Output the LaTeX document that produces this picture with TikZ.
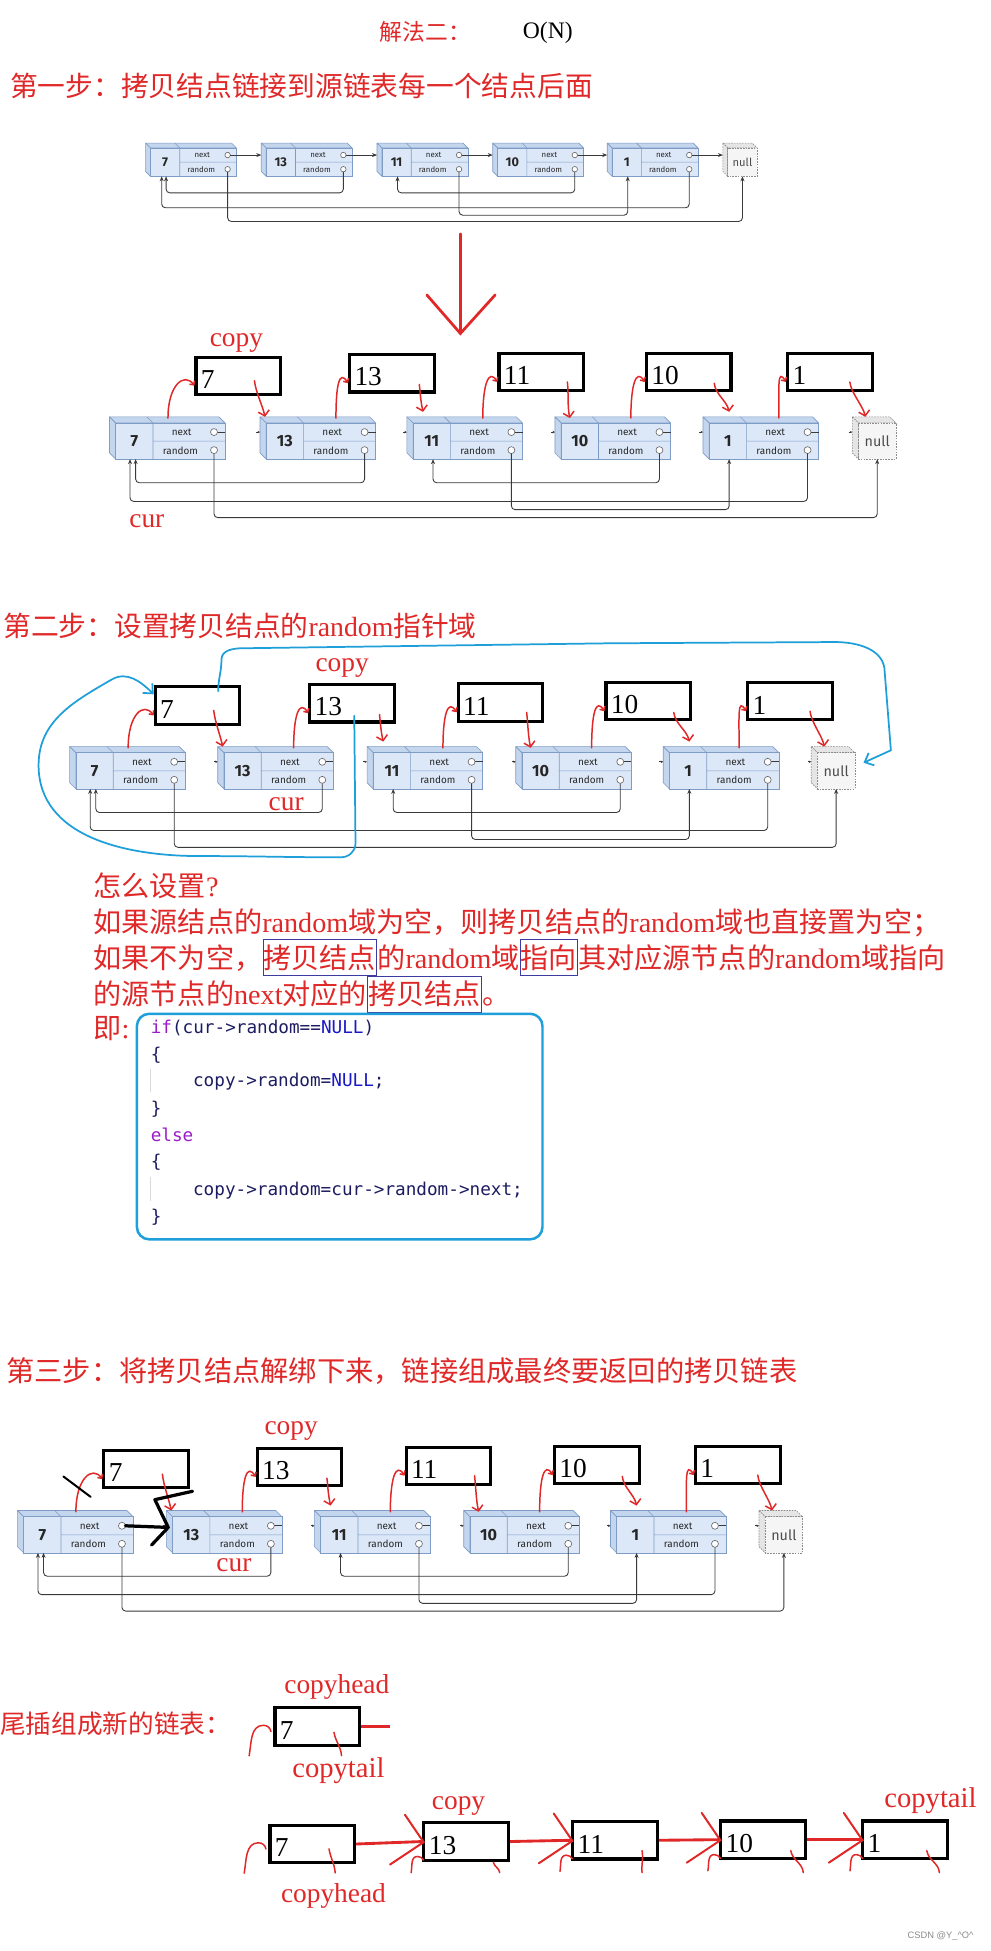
\documentclass[tikz,border=0pt]{standalone}
\usepackage{fontspec}
\setmainfont{Liberation Serif}
\newfontfamily\cjk{Noto Sans CJK SC}
\newfontfamily\nodef{Fira Sans}
\newfontfamily\codef{DejaVu Sans Mono}
\newfontfamily\wmf{Liberation Sans}
\usetikzlibrary{arrows.meta}
\definecolor{rd}{HTML}{E02828}
\definecolor{nfront}{HTML}{DCE8F8}
\definecolor{nside}{HTML}{C4D6EE}
\definecolor{nborder}{HTML}{7F9CC6}
\definecolor{lk}{HTML}{3A3A3A}
\definecolor{bl}{HTML}{1E9FDA}
\definecolor{hlb}{HTML}{3C3CA0}
\definecolor{kw}{HTML}{9A1CC8}
\definecolor{nl}{HTML}{1818C8}
\definecolor{cd}{HTML}{1C1C60}
\tikzset{
 nodeside/.style={fill=nside, draw=nborder, line width=0.5pt, line join=round},
 nodefront/.style={fill=nfront, draw=nborder, line width=0.5pt},
 nullside/.style={fill=black!10, draw=black!45, dash pattern=on 1.3pt off 0.9pt, line width=0.5pt},
 nullfront/.style={fill=black!4, draw=black!45, dash pattern=on 1.3pt off 0.9pt, line width=0.5pt},
 valtxt/.style={inner sep=0, font=\nodef\bfseries\fontsize{13}{13}\selectfont, text=black!85},
 fldtxt/.style={inner sep=0, font=\nodef\fontsize{8}{8}\selectfont, text=black!85},
 nulltxt/.style={inner sep=0, font=\nodef\fontsize{11.5}{11.5}\selectfont, text=black!70},
 pics/lnode/.style={code={
   \path[nodeside] (0,0) -- (88,0) -- (93,5) -- (5,5) -- cycle;
   \path[nodeside] (0,0) -- (5,5) -- (5,34) -- (0,29) -- cycle;
   \path[nodefront] (5,5) rectangle (93,34);
   \draw[nborder, line width=0.5pt] (30,0) -- (35,5) -- (35,34) (35,19.5) -- (93,19.5);
   \node[valtxt] (-val) at (20,19.5) {#1};
   \node[fldtxt] (-nx) at (58,12.5) {next};
   \node[fldtxt] (-rd) at (57,27) {random};
   \draw[lk, line width=0.6pt] (86.8,12.25) -- (93,12.25);
   \draw[black!60, fill=white, line width=0.5pt] (84,12.25) circle[radius=2.8] (84,26.75) circle[radius=2.8];
   \coordinate (-o) at (0,0);
   \coordinate (-ne) at (86.8,12.25);
   \coordinate (-rb) at (84,29.55);
   \coordinate (-vb) at (21,34);
   \coordinate (-vb2) at (16.5,34);
   \coordinate (-in) at (0,12.25);
 }},
 pics/nullnode/.style={code={
   \path[nullside] (0,0) -- (30,0) -- (35,5) -- (5,5) -- cycle;
   \path[nullside] (0,0) -- (5,5) -- (5,34) -- (0,29) -- cycle;
   \path[nullfront] (5,5) rectangle (35,34);
   \node[nulltxt] (-t) at (20,19.5) {null};
   \coordinate (-o) at (0,0);
   \coordinate (-vb) at (20,34);
   \coordinate (-in) at (0,12.25);
 }},
 lnk/.style={lk, line width=0.7pt, rounded corners=3pt, -{Stealth[length=4pt,width=3.2pt]}},
 rtxt/.style={inner sep=0, text=rd, font=\cjk\fontsize{22.6}{26}\selectfont},
 hl/.style={draw=hlb, line width=0.7pt, inner xsep=0.5pt, inner ysep=4pt},
 lbl/.style={inner sep=0, text=rd, font=\rmfamily\fontsize{22}{24}\selectfont},
 cbox/.style={draw=black, line width=2.5pt, minimum width=68, minimum height=30, inner sep=0},
 numtxt/.style={inner sep=0, font=\rmfamily\fontsize{22}{22}\selectfont, text=black, anchor=west},
 rise/.style={rd, line width=1.2pt, line cap=round, -{Straight Barb[length=2.5pt,width=5pt]}},
 desc/.style={rd, line width=1.2pt, line cap=round, -{Straight Barb[length=4pt,width=9pt]}},
 scrib/.style={rd, line width=1.2pt, line cap=round},
 bigred/.style={rd, line width=2.2pt, line cap=round},
 redthick/.style={rd, line width=2.3pt},
 redwing/.style={rd, line width=1.6pt, line cap=round},
 bluel/.style={bl, line width=1.4pt, line cap=round, line join=round},
 blk/.style={black, line width=1.6pt, line cap=round},
 blkthick/.style={black, line width=2.6pt, line cap=round, line join=round},
 code/.style={anchor=base west, inner sep=0, text=cd, font=\codef\fontsize{14.2}{16}\selectfont},
}
\begin{document}
\begin{tikzpicture}[x=1pt,y=-1pt]
\useasboundingbox (0,0) rectangle (796,1568);
\fill[white] (0,0) rectangle (796,1568);

% titles
\node[rtxt, anchor=west, font=\cjk\fontsize{18.3}{20}\selectfont] (title) at (305,26) {解法二：};
\node[anchor=west, inner sep=0, font=\rmfamily\fontsize{19}{20}\selectfont] (onn) at (420,26) {O(N)};
\node[rtxt, anchor=west, font=\cjk\fontsize{22.3}{26}\selectfont] (s1) at (8,69) {第一步：拷贝结点链接到源链表每一个结点后面};

% row 1
\foreach \k/\x/\v in {a/117/7, b/210/13, c/303/11, d/396/10, e/488/1}
  \pic[scale=0.785, transform shape] (r1\k) at (\x,115) {lnode=\v};
\pic[scale=0.785, transform shape] (r1f) at (581,115) {nullnode};
\foreach \k/\n in {a/b,b/c,c/d,d/e,e/f}
  \draw[lk, line width=0.7pt, -{Stealth[length=4pt,width=3.2pt]}] (r1\k-ne) -- (r1\n-in);

% rows 2-4
\foreach \k/\x/\v in {a/88/7, b/209/13, c/327/11, d/446/10, e/565/1}
  \pic (r2\k) at (\x,335) {lnode=\v};
\pic (r2f) at (685,335) {nullnode};
\foreach \k/\x/\v in {a/56/7, b/175/13, c/295/11, d/414.5/10, e/533/1}
  \pic (r3\k) at (\x,600) {lnode=\v};
\pic (r3f) at (652,600) {nullnode};
\foreach \k/\x/\v in {a/14/7, b/133.7/13, c/252.7/11, d/372.7/10, e/490.6/1}
  \pic (r4\k) at (\x,1214) {lnode=\v};
\pic (r4f) at (610,1214) {nullnode};
\foreach \rw in {2,3,4}
  \foreach \n in {b,c,d,e,f}
    \draw[lk, line width=0.6pt, -{Stealth[length=2pt,width=2pt]}] ([shift={(-3,0)}]r\rw\n-in) -- (r\rw\n-in);

% random links
\foreach \rw/\la/\lb/\lc/\ld in {1/155/167/173/178, 2/388/403/409.6/416, 3/653/667.5/674.7/681, 4/1266.8/1281.6/1288.6/1294.8}{
  \coordinate (L\rw a) at (0,\la);
  \coordinate (L\rw b) at (0,\lb);
  \coordinate (L\rw c) at (0,\lc);
  \coordinate (L\rw d) at (0,\ld);
  \draw[lnk] (r\rw b-rb) -- (r\rw b-rb |- L\rw a) -| (r\rw a-vb);
  \draw[lnk] (r\rw e-rb) -- (r\rw e-rb |- L\rw b) -| (r\rw a-vb2);
  \draw[lnk] (r\rw d-rb) -- (r\rw d-rb |- L\rw a) -| (r\rw c-vb);
  \draw[lnk] (r\rw c-rb) -- (r\rw c-rb |- L\rw c) -| (r\rw e-vb);
  \draw[lnk] (r\rw a-rb) -- (r\rw a-rb |- L\rw d) -| (r\rw f-vb);
}

% big red arrow
\coordinate (ar1) at (370,188);
\coordinate (ar2) at (370,268);
\draw[bigred] (ar1) -- (ar2);
\draw[bigred] ([shift={(-27,-31)}]ar2) -- (ar2) -- ([shift={(28,-31)}]ar2);

% copy boxes
\foreach \k/\x/\y/\v in {a/191.5/302/7, b/315/300/13, c/435/299/11, d/553.5/299/10, e/667/299/1}{
  \node[cbox] (c2\k) at (\x,\y) {};
  \node[numtxt] (c2\k-n) at ([shift={(5,3)}]c2\k.west) {\v};
}
\foreach \k/\x/\y/\v in {a/158.75/567/7, b/283/565.25/13, c/402.25/564.5/11, d/521/563.6/10, e/635/563.6/1}{
  \node[cbox] (c3\k) at (\x,\y) {};
  \node[numtxt] (c3\k-n) at ([shift={(5,3)}]c3\k.west) {\v};
}
\foreach \k/\x/\y/\v in {a/117.5/1180.75/7, b/240.75/1179/13, c/360.4/1178/11, d/479.6/1177.5/10, e/593/1177.5/1}{
  \node[cbox] (c4\k) at (\x,\y) {};
  \node[numtxt] (c4\k-n) at ([shift={(5,3)}]c4\k.west) {\v};
}

% red rises and descents
\foreach \rw in {2,3,4}{
  \draw[rise] ([shift={(47,1)}]r\rw a-o) .. controls +(0,-27) and +(-8,-11) .. ([shift={(0,8)}]c\rw a.west);
  \foreach \k in {b,c,d,e}
    \draw[rise] ([shift={(61,1)}]r\rw\k-o) .. controls +(0,-27) and +(-7,-11) .. ([shift={(0,8)}]c\rw\k.west);
  \foreach \k/\n/\sx/\sy/\ex/\ey in {a/b/13/4/4/0, b/c/22/9/13/-4, c/d/21/8/12/1, d/e/20.5/9/21/-4, e/f/16/8/10.5/0}
    \draw[desc] ([shift={(\sx,\sy)}]c\rw\k.center) .. controls +(1,9) and +(-2,-9) .. ([shift={(\ex,\ey)}]r\rw\n-o);
}

% labels
\node[lbl] (cp2) at (190,276) {copy};
\node[lbl] (cu2) at (118,419) {cur};
\node[lbl] (cp3) at (275,537) {copy};
\node[lbl] (cu3) at (230,646) {cur};
\node[lbl] (cp4) at (234,1150) {copy};
\node[lbl] (cu4) at (188,1258) {cur};

% step 2
\node[rtxt, anchor=west, font=\cjk\fontsize{22.3}{26}\selectfont] (s2) at (2.5,503) {第二步：设置拷贝结点的{\rmfamily random}指针域};

% blue scribbles
\draw[bluel, -{Straight Barb[length=6pt,width=11pt]}] ([shift={(1.7,10)}]c3b.center) -- (285.7,678) to[out=270,in=0] (274,689) to[out=180,in=0] (160,688) to[out=180,in=270] (31,615) to[out=90,in=210] (90,546) to[out=30,in=135] ([shift={(0,-9)}]c3a.west);
\draw[bluel, -{Straight Barb[length=6pt,width=11pt]}] ([shift={(16.6,-11.5)}]c3a.center) to[out=90,in=270] (178,530) to[out=90,in=180] (195,521) -- (490,517) -- (671,516) to[out=0,in=90] (711,540) -- (716,603) -- ([shift={(42,13)}]r3f-o);

% explanation text
\node[rtxt, anchor=west] (t0) at (75,712) {怎么设置{\rmfamily ?}};
\node[rtxt, anchor=west] (t1) at (75,741.6) {如果源结点的{\rmfamily random}域为空，则拷贝结点的{\rmfamily random}域也直接置为空；};
\node[rtxt, anchor=west] (t2a) at (75,770) {如果不为空，};
\node[rtxt, hl, anchor=base west] (t2b) at (t2a.base east) {拷贝结点};
\node[rtxt, anchor=base west] (t2c) at (t2b.base east) {的{\rmfamily random}域};
\node[rtxt, hl, anchor=base west] (t2d) at (t2c.base east) {指向};
\node[rtxt, anchor=base west] (t2e) at (t2d.base east) {其对应源节点的{\rmfamily random}域指向};
\node[rtxt, anchor=west] (t3a) at (75,799) {的源节点的{\rmfamily next}对应的};
\node[rtxt, hl, anchor=base west] (t3b) at (t3a.base east) {拷贝结点};
\node[rtxt, anchor=base west] (t3c) at (t3b.base east) {。};
\node[rtxt, anchor=west] (t4) at (75,827) {即{\rmfamily :}};

% code box
\node[draw=bl, line width=2pt, rounded corners=10pt, minimum width=326, minimum height=181.3, inner sep=0] (codebox) at (273,905.4) {};
\draw[black!15, line width=0.8pt] (121,859) -- (121,878) (121,946) -- (121,965);
\node[code] (k1) at (121,830.5) {\textcolor{kw}{if}(cur->random==\textcolor{nl}{NULL})};
\node[code] (k2) at (121,852) {\{};
\node[code] (k3) at (155,873.5) {copy->random=\textcolor{nl}{NULL};};
\node[code] (k4) at (121,895.5) {\}};
\node[code] (k5) at (121,917) {\textcolor{kw}{else}};
\node[code] (k6) at (121,938.5) {\{};
\node[code] (k7) at (155,960.5) {copy->random=cur->random->next;};
\node[code] (k8) at (121,982.5) {\}};

% step 3
\node[rtxt, anchor=west, font=\cjk\fontsize{22.7}{26}\selectfont] (s3) at (5,1102) {第三步：将拷贝结点解绑下来，链接组成最终要返回的拷贝链表};

% step 3 black marks
\draw[blk] ([shift={(-31.3,5.85)}]c4a.west) -- ([shift={(-9.4,22.25)}]c4a.west);
\draw[blkthick] (r4a-ne) -- ([shift={(1.5,1.3)}]r4b-in);
\draw[blkthick] ([shift={(2,1.5)}]c4a.south east) -- ([shift={(-9.2,-21)}]r4b-in) -- ([shift={(1.5,1.3)}]r4b-in) -- ([shift={(-11.9,15.5)}]r4b-in);

% tail insertion
\node[rtxt, anchor=west, font=\cjk\fontsize{20.6}{24}\selectfont] (s4) at (0,1385.5) {尾插组成新的链表：};
\node[cbox] (t0b) at (255,1387.6) {};
\node[numtxt] (t0b-n) at ([shift={(5,3)}]t0b.west) {7};
\draw[redthick] (t0b.east) -- ([shift={(23,0)}]t0b.east);
\draw[scrib] ([shift={(-19.5,23.5)}]t0b.west) to[out=80,in=180] ([shift={(-8,-1)}]t0b.west) to[out=0,in=100] ([shift={(-2,4)}]t0b.west);
\draw[scrib] ([shift={(13.4,4.6)}]t0b.center) to[out=-80,in=95] ([shift={(19.5,23.4)}]t0b.center);
\node[lbl] (chd1) at (270.7,1356) {copyhead};
\node[lbl, font=\rmfamily\fontsize{23}{24}\selectfont] (ctl1) at (272,1423) {copytail};

\foreach \k/\x/\y/\v in {1/251/1482/7, 2/374.7/1480/13, 3/494.3/1479/11, 4/613.2/1478.5/10, 5/727.4/1478.5/1}{
  \node[cbox] (b\k) at (\x,\y) {};
  \node[numtxt] (b\k-n) at ([shift={(5,3)}]b\k.west) {\v};
}
\foreach \a/\b in {1/2,2/3,3/4,4/5}{
  \draw[redthick] (b\a.east) -- (b\b.west);
  \draw[redwing] ([shift={(-14,-21.5)}]b\b.west) -- ([shift={(1,0.5)}]b\b.west) -- ([shift={(-26,18.5)}]b\b.west);
  \draw[scrib] ([shift={(-9,25)}]b\b.west) to[out=80,in=180] ([shift={(-4,12)}]b\b.west) to[out=0,in=120] ([shift={(1,15)}]b\b.west);
}
\draw[scrib] ([shift={(-19.5,23.5)}]b1.west) to[out=80,in=180] ([shift={(-8,-1)}]b1.west) to[out=0,in=100] ([shift={(-2,4)}]b1.west);
\foreach \k/\sx/\sy/\ex/\ey in {1/13.4/3.9/18.4/23.2, 2/21.8/16.6/26.9/25, 3/21.7/8.3/21.7/26, 4/22.3/8.8/32.4/26.5, 5/17.4/8.8/27.6/26.5}
  \draw[scrib] ([shift={(\sx,\sy)}]b\k.center) to[out=-80,in=95] ([shift={(\ex,\ey)}]b\k.center);
\node[lbl] (cp5) at (368.5,1451.7) {copy};
\node[lbl, font=\rmfamily\fontsize{23}{24}\selectfont] (ctl2) at (747.8,1447) {copytail};
\node[lbl] (chd2) at (268,1523.5) {copyhead};

\node[inner sep=0, font=\wmf\fontsize{7.5}{8}\selectfont, text=black!45] (wm) at (756,1556) {CSDN @Y\_\textasciicircum O\textasciicircum};
\end{tikzpicture}
\end{document}
